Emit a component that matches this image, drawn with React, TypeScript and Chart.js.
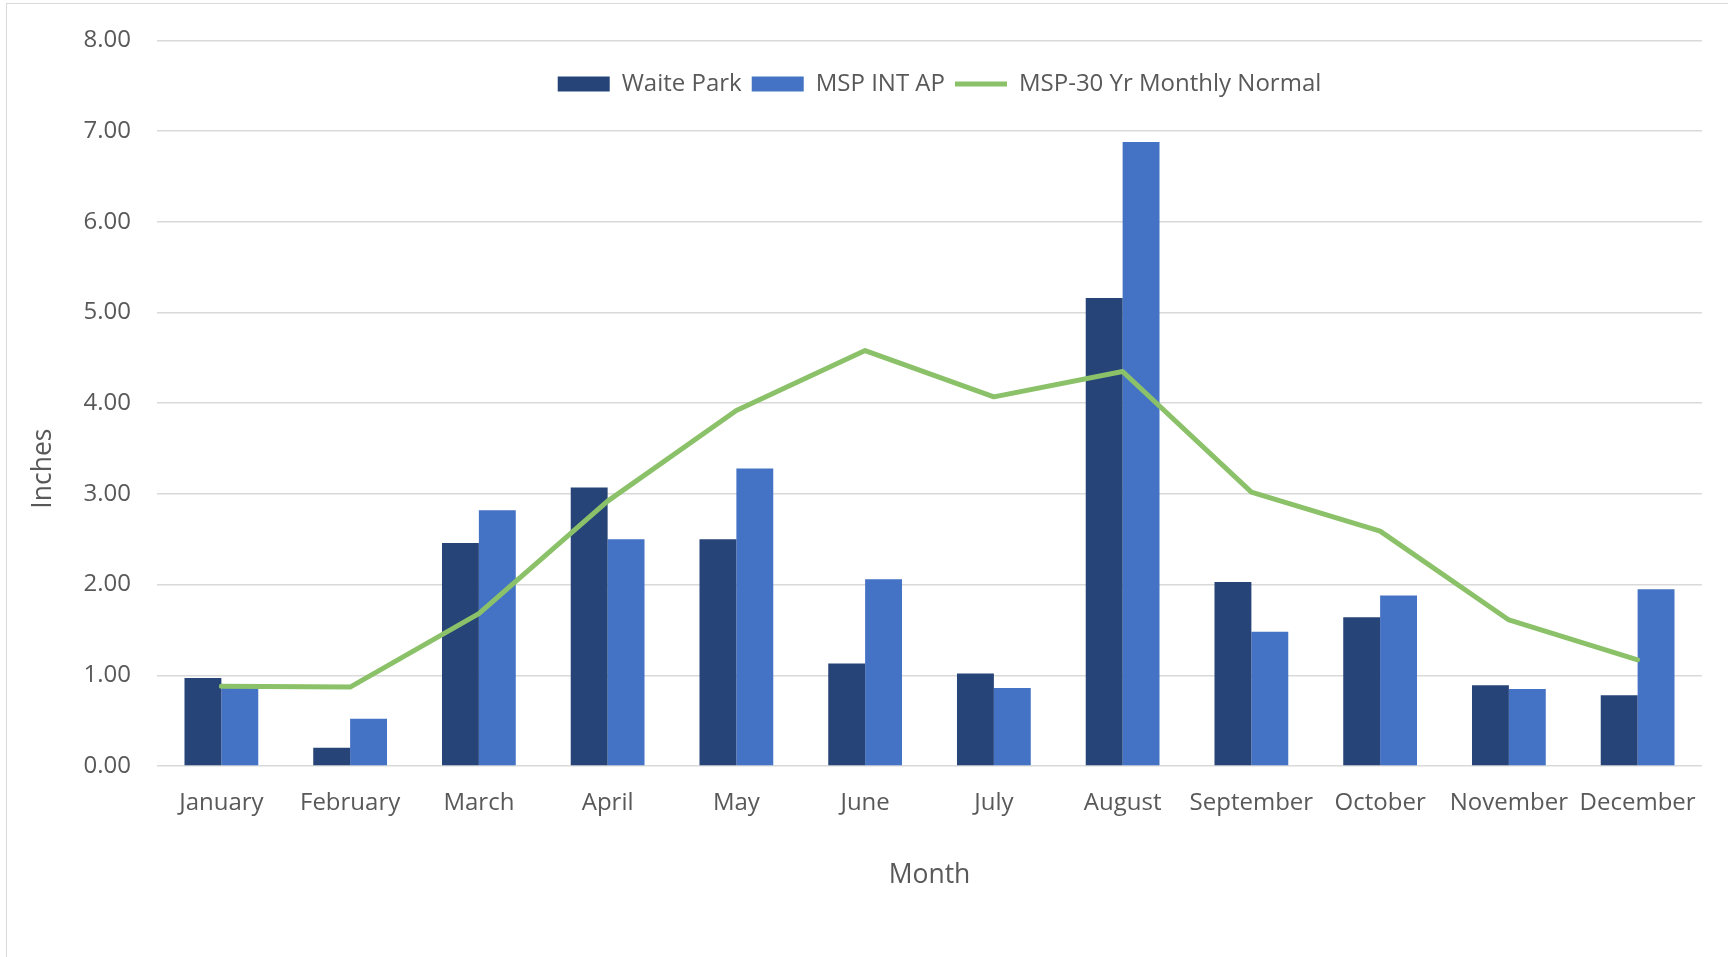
import React, { useEffect, useRef } from 'react';
import { Chart, registerables } from 'chart.js';

Chart.register(...registerables);

const months = ['January', 'February', 'March', 'April', 'May', 'June', 'July', 'August', 'September', 'October', 'November', 'December'];
const waitePark = [0.97, 0.2, 2.46, 3.07, 2.5, 1.13, 1.02, 5.16, 2.03, 1.64, 0.89, 0.78];
const mspIntAp = [0.86, 0.52, 2.82, 2.5, 3.28, 2.06, 0.86, 6.88, 1.48, 1.88, 0.85, 1.95];
const mspNormal = [0.88, 0.87, 1.68, 2.92, 3.92, 4.58, 4.07, 4.35, 3.02, 2.59, 1.61, 1.17];

const FONT = "'Open Sans', 'Noto Sans', sans-serif";
const TEXT = '#595959';
const GRID = '#d9d9d9';

// Lets the legend float inside the plot area (between the top gridlines)
// instead of reserving its own band above it.
const legendInsidePlot = {
  id: 'legendInsidePlot',
  beforeLayout(chart: any) {
    const lg = chart.legend;
    if (lg && !lg.__floated) {
      const fit = lg.fit.bind(lg);
      lg.fit = function () {
        fit();
        this.__realHeight = this.height;
        this.height = 0;
      };
      lg.__floated = true;
    }
  },
  afterLayout(chart: any) {
    const lg = chart.legend;
    if (lg && lg.__realHeight) {
      lg.height = lg.__realHeight;
      lg.bottom = lg.top + lg.__realHeight;
      lg.left += 10;
      lg.right += 10;
    }
  },
};

export default function App() {
  const ref = useRef<HTMLCanvasElement | null>(null);

  useEffect(() => {
    if (!ref.current) return;
    const chart = new Chart(ref.current, {
      type: 'bar',
      data: {
        labels: months,
        datasets: [
          {
            type: 'bar',
            label: 'Waite Park',
            data: waitePark,
            backgroundColor: '#264478',
            borderWidth: 0,
            pointStyle: 'rect',
            categoryPercentage: 0.573,
            barPercentage: 1.0,
          } as any,
          {
            type: 'bar',
            label: 'MSP INT AP',
            data: mspIntAp,
            backgroundColor: '#4472C4',
            borderWidth: 0,
            pointStyle: 'rect',
            categoryPercentage: 0.573,
            barPercentage: 1.0,
          } as any,
          {
            type: 'line',
            label: 'MSP-30 Yr Monthly Normal',
            data: mspNormal,
            borderColor: '#8BC168',
            backgroundColor: '#8BC168',
            borderWidth: 5,
            borderCapStyle: 'round',
            borderJoinStyle: 'round',
            pointRadius: 0,
            pointHoverRadius: 0,
            pointStyle: 'line',
            tension: 0,
            order: -1,
          } as any,
        ],
      },
      options: {
        responsive: false,
        animation: false,
        layout: { padding: { top: 36, right: 26, left: 0, bottom: 0 } },
        plugins: {
          tooltip: { enabled: false },
          legend: {
            position: 'top',
            align: 'center',
            fullSize: false,
            title: { display: true, text: '', font: { size: 10 }, padding: { top: 9.5, bottom: 0 } },
            labels: {
              usePointStyle: true,
              pointStyleWidth: 52,
              boxHeight: 15,
              padding: 10,
              color: TEXT,
              font: { family: FONT, size: 24 },
              sort: (a: any, b: any) => a.datasetIndex - b.datasetIndex,
            },
          },
        },
        scales: {
          x: {
            grid: { display: false, drawTicks: false },
            border: { display: false },
            ticks: {
              color: TEXT,
              font: { family: FONT, size: 24 },
              padding: 22.5,
              maxRotation: 0,
              autoSkip: false,
            },
            title: {
              display: true,
              text: 'Month',
              color: TEXT,
              font: { family: FONT, size: 26.5 },
              padding: { top: 0, bottom: 66 },
            },
            afterFit: (s: any) => {
              s.height = 191;
            },
          },
          y: {
            min: 0,
            max: 8,
            grid: { color: GRID, lineWidth: 1.5, drawTicks: false },
            border: { display: false },
            ticks: {
              stepSize: 1,
              color: TEXT,
              font: { family: FONT, size: 24 },
              padding: 26,
              callback: (v: any) => Number(v).toFixed(2),
            },
            title: {
              display: true,
              text: 'Inches' + '\u00a0'.repeat(19),
              color: TEXT,
              font: { family: FONT, size: 26.5 },
              padding: { top: 28, bottom: 0 },
            },
            afterFit: (s: any) => {
              s.width = 157;
            },
          },
        },
      },
      plugins: [legendInsidePlot],
    });
    return () => chart.destroy();
  }, []);

  return (
    <div style={{ position: 'fixed', left: 0, top: 0, width: 1728, height: 957, overflow: 'hidden', background: '#fff' }}>
      <div
        style={{
          position: 'absolute',
          left: 6,
          top: 3,
          width: 1722,
          height: 954,
          borderLeft: '1.5px solid #d9d9d9',
          borderTop: '1.5px solid #d9d9d9',
          boxSizing: 'border-box',
        }}
      />
      <canvas ref={ref} width={1728} height={957} style={{ position: 'absolute', left: 0, top: 0 }} />
    </div>
  );
}
